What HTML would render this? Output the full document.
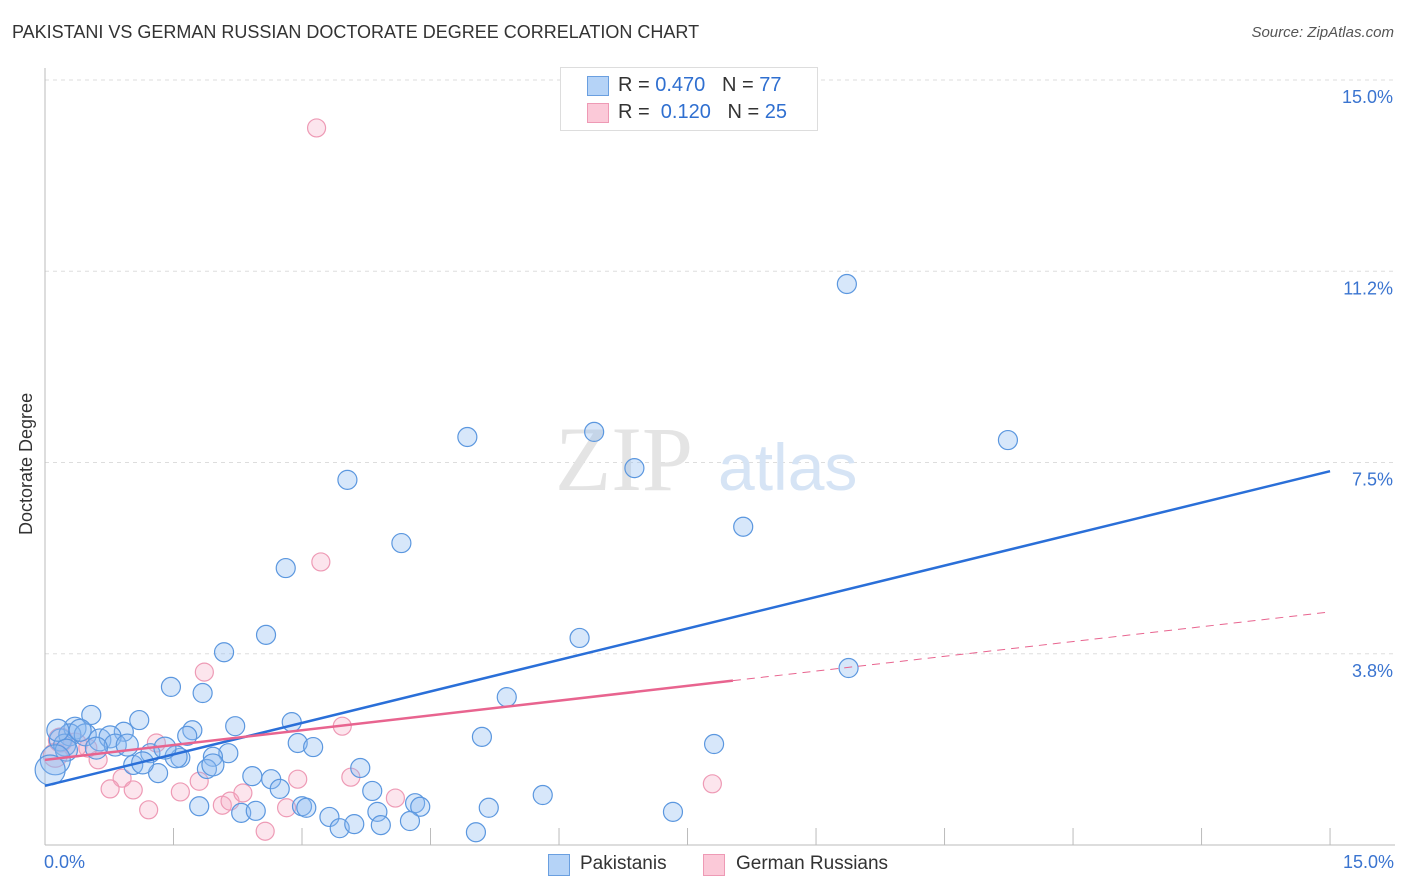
<!DOCTYPE html>
<html><head><meta charset="utf-8"><style>
body{margin:0;background:#fff;font-family:"Liberation Sans",sans-serif;}
#wrap{position:relative;width:1406px;height:892px;overflow:hidden;}
.t{position:absolute;white-space:nowrap;}
</style></head><body>
<div id="wrap">
<div class="t" style="left:12px;top:22px;font-size:18px;color:#333;">PAKISTANI VS GERMAN RUSSIAN DOCTORATE DEGREE CORRELATION CHART</div>
<div class="t" style="right:12px;top:24px;font-size:15px;color:#555;font-style:italic;">Source: ZipAtlas.com</div>
<svg id="svg" width="1406" height="892" style="position:absolute;left:0;top:0"></svg>
</div>
<script>
const yTicks=[3.75,7.5,11.25,15];
const yTickLabels=["3.8%","7.5%","11.2%","15.0%"];
const bluePx=[[847,284],[1008,440],[594,432],[467,437],[634,468],[347,480],[743,527],[401,543],[286,568],[266,635],[580,638],[224,652],[849,668],[171,687],[203,693],[507,697],[91,715],[139,720],[235,726],[292,722],[192,730],[124,732],[482,737],[714,744],[298,743],[313,747],[187,736],[228,753],[213,757],[180,758],[150,753],[133,765],[158,773],[207,769],[252,776],[271,779],[280,789],[360,768],[372,791],[543,795],[489,808],[415,803],[420,807],[302,806],[306,808],[199,806],[241,813],[256,811],[329,817],[377,812],[410,821],[340,828],[354,824],[381,825],[476,832],[673,812],[60,740],[75,728],[70,735],[85,735],[100,740],[110,737],[115,745],[96,748],[127,745],[65,745],[58,730],[66,750],[143,763],[176,757],[165,748],[213,765],[80,730],[55,760],[50,770]];
const pinkPx=[[317,128],[321,562],[204,672],[342,726],[156,743],[98,760],[122,778],[110,789],[133,790],[149,810],[180,792],[199,781],[222,805],[230,801],[243,793],[265,831],[287,808],[298,779],[351,777],[395,798],[712,784],[88,748],[75,745],[60,740],[55,755]];
const blueXs=bluePx.map(p=>+((p[0]-45)/85.67).toFixed(2));
const blueYs=bluePx.map(p=>+((845-p[1])/51).toFixed(2));
const pinkXs=pinkPx.map(p=>+((p[0]-45)/85.67).toFixed(2));
const pinkYs=pinkPx.map(p=>+((845-p[1])/51).toFixed(2));
const blueTrend=[1.16,7.33];
const pinkTrend=[1.67,4.57];
const pinkSolidEnd=8.03;

const X=v=>45+v*85.67, Y=v=>845-v*51;
const svg=document.getElementById('svg');const NS='http://www.w3.org/2000/svg';
function mk(tag,a,name){const e=document.createElementNS(NS,tag);for(const k in a)e.setAttribute(k,a[k]);


svg.appendChild(e);return e;}
yTicks.forEach((v,i)=>{
 mk('line',{x1:45,x2:1395,y1:Y(v),y2:Y(v),stroke:'#ddd','stroke-dasharray':'4,4'},'gridline');
 const t=mk('text',{x:1393,y:Y(v)+23,'text-anchor':'end','font-size':18,fill:'#3a74d0','font-family':'Liberation Sans'},'y-tick-label');t.textContent=yTickLabels[i];
});
mk('line',{x1:45,x2:45,y1:68,y2:845,stroke:'#bbb'},'y-axis');
mk('line',{x1:45,x2:1395,y1:845,y2:845,stroke:'#bbb'},'x-axis');
for(let i=1;i<=10;i++)mk('line',{x1:X(i*1.5),x2:X(i*1.5),y1:828,y2:845,stroke:'#bbb'},'x-tick');
const wm=mk('text',{x:555,y:490,'font-size':92,fill:'#e4e4e4','font-family':'Liberation Serif'},'watermark');wm.textContent='ZIP';
const wm2=mk('text',{x:718,y:490,'font-size':66,fill:'#d6e4f5','font-family':'Liberation Sans'},'watermark');wm2.textContent='atlas';
pinkXs.forEach((x,i)=>mk('circle',{cx:X(x),cy:Y(pinkYs[i]),r:i>=22?12:9,fill:'rgba(246,170,196,0.3)',stroke:'#ee9ab5','stroke-width':1.2},'pink-point'));
blueXs.forEach((x,i)=>mk('circle',{cx:X(x),cy:Y(blueYs[i]),r:i>=73?15:(i>=56?11:9.5),fill:'rgba(140,185,240,0.35)',stroke:'#5b97df','stroke-width':1.2},'blue-point'));
mk('line',{x1:X(0),y1:Y(blueTrend[0]),x2:X(15),y2:Y(blueTrend[1]),stroke:'#2a6fd8','stroke-width':2.5},'blue-trend-line');
const ps=(pinkTrend[1]-pinkTrend[0])/15;
mk('line',{x1:X(0),y1:Y(pinkTrend[0]),x2:X(pinkSolidEnd),y2:Y(pinkTrend[0]+ps*pinkSolidEnd),stroke:'#e8648f','stroke-width':2.5},'pink-trend-line');
mk('line',{x1:X(pinkSolidEnd),y1:Y(pinkTrend[0]+ps*pinkSolidEnd),x2:X(15),y2:Y(pinkTrend[1]),stroke:'#e8648f','stroke-width':1,'stroke-dasharray':'8,6'},'pink-trend-dashed');
</script>
<div class="t" style="left:44px;top:852px;font-size:18px;color:#3a74d0">0.0%</div>
<div class="t" style="right:12px;top:852px;font-size:18px;color:#3a74d0">15.0%</div>
<div class="t" style="left:16px;top:535px;transform:rotate(-90deg);transform-origin:0 0;font-size:18px;color:#333">Doctorate Degree</div>
<div style="position:absolute;left:560px;top:67px;width:256px;height:62px;border:1px solid #ddd;background:#fff">
 <div style="position:absolute;left:26px;top:8px;width:20px;height:18px;background:#b5d3f7;border:1px solid #6a9fe0"></div>
 <div class="t" style="left:57px;top:6px;font-size:20px;color:#333">R = <span style="color:#2f6fd0">0.470</span>&nbsp;&nbsp;&nbsp;N = <span style="color:#2f6fd0">77</span></div>
 <div style="position:absolute;left:26px;top:35px;width:20px;height:18px;background:#fbc9d8;border:1px solid #ee9ab5"></div>
 <div class="t" style="left:57px;top:33px;font-size:20px;color:#333">R = &nbsp;<span style="color:#2f6fd0">0.120</span>&nbsp;&nbsp;&nbsp;N = <span style="color:#2f6fd0">25</span></div>
</div>
<div style="position:absolute;left:548px;top:854px;width:20px;height:20px;background:#b5d3f7;border:1px solid #6a9fe0"></div>
<div class="t" style="left:580px;top:853px;font-size:19px;color:#333">Pakistanis</div>
<div style="position:absolute;left:703px;top:854px;width:20px;height:20px;background:#fbc9d8;border:1px solid #ee9ab5"></div>
<div class="t" style="left:736px;top:853px;font-size:19px;color:#333">German Russians</div>
</body></html>
